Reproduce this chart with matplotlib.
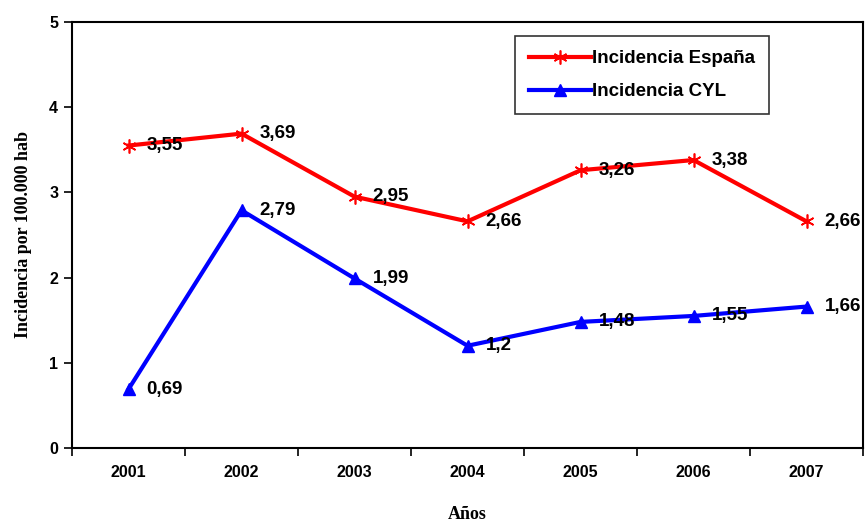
import matplotlib.pyplot as plt
import numpy as np

years = ['2001', '2002', '2003', '2004', '2005', '2006', '2007']
espana = [3.55, 3.69, 2.95, 2.66, 3.26, 3.38, 2.66]
cyl = [0.69, 2.79, 1.99, 1.2, 1.48, 1.55, 1.66]
lab_esp = ['3,55', '3,69', '2,95', '2,66', '3,26', '3,38', '2,66']
lab_cyl = ['0,69', '2,79', '1,99', '1,2', '1,48', '1,55', '1,66']

fig = plt.figure(figsize=(8.66, 5.27), dpi=100)
ax = fig.add_axes([72/866, 1 - 448/527, (863-72)/866, (448-22)/527])

x = np.arange(len(years))
ax.plot(x, espana, color='#ff0000', lw=3, marker=(6, 2, 0), ms=10, mew=1.2,
        label='Incidencia España')
ax.plot(x, cyl, color='#0000ff', lw=3, marker='^', ms=9,
        label='Incidencia CYL')

for i in range(len(years)):
    ax.annotate(lab_esp[i], (x[i], espana[i]), xytext=(13, 0), textcoords='offset points',
                va='center', ha='left', fontsize=13.5, fontweight='bold',
                family='Liberation Sans', annotation_clip=False)
    ax.annotate(lab_cyl[i], (x[i], cyl[i]), xytext=(13, 0), textcoords='offset points',
                va='center', ha='left', fontsize=13.5, fontweight='bold',
                family='Liberation Sans', annotation_clip=False)

ax.set_xlim(-0.5, len(years) - 0.5)
ax.set_ylim(0, 5)
ax.set_yticks(range(6))
ax.set_xticks(x)
ax.set_xticklabels(years)
ax.set_xticks(np.arange(-0.5, len(years)), minor=True)
ax.tick_params(axis='x', which='major', length=0, pad=12)
ax.tick_params(axis='x', which='minor', length=6, width=1.2, direction='out')
ax.tick_params(axis='y', length=6, width=1.2, direction='out', pad=4)
for t in ax.get_xticklabels() + ax.get_yticklabels():
    t.set_fontweight('bold')
    t.set_family('Liberation Sans')
    t.set_fontsize(11.5)
for s in ax.spines.values():
    s.set_linewidth(1.5)

ax.set_xlabel('Años', family='Liberation Serif', fontweight='bold', fontsize=13, labelpad=19)
ax.set_ylabel('Incidencia por 100.000 hab', family='Liberation Serif', fontweight='bold',
              fontsize=13, labelpad=12)

leg = ax.legend(loc='upper center', bbox_to_anchor=((642-72)/791, 1 - (36-22)/426),
                prop={'family': 'Liberation Sans', 'weight': 'bold', 'size': 13.5},
                frameon=True, fancybox=False, edgecolor='black', handlelength=3.3,
                borderpad=0.75, labelspacing=0.85, handletextpad=0.1, borderaxespad=0)
leg.get_frame().set_linewidth(1.2)

fig.savefig('out.png', dpi=100)
